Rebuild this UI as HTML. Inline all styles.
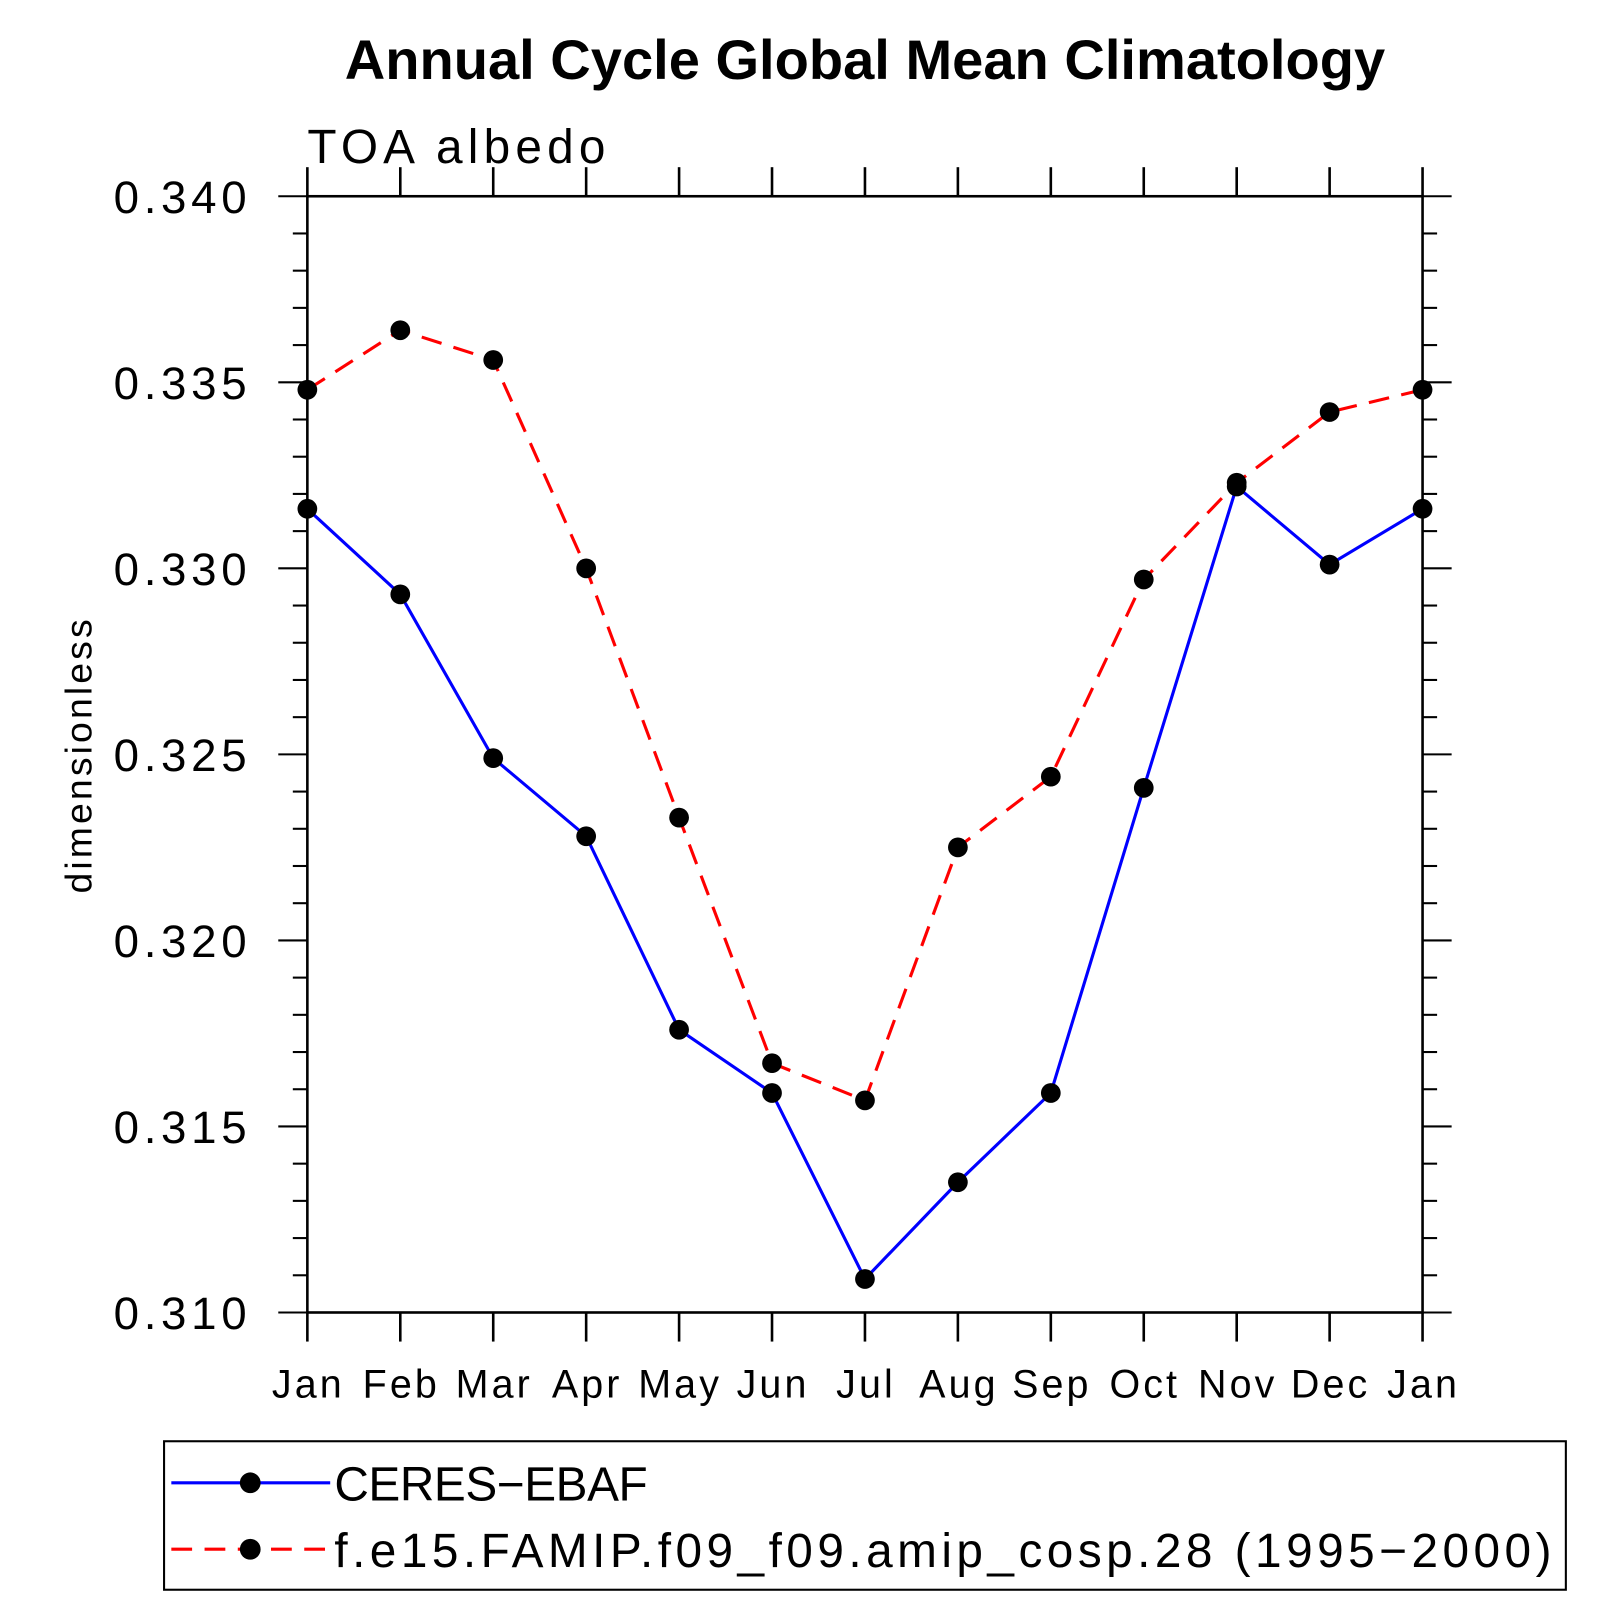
<!DOCTYPE html>
<html><head><meta charset="utf-8"><style>
html,body{margin:0;padding:0;background:#fff;}
svg{display:block;}
text{font-family:"Liberation Sans",sans-serif;fill:#000;}
</style></head><body>
<svg id="chart" width="1624" height="1624" viewBox="0 0 1564 1564" xmlns="http://www.w3.org/2000/svg">
<text x="833" y="76" text-anchor="middle" font-size="54" font-weight="bold">Annual Cycle Global Mean Climatology</text>
<text x="296" y="157" font-size="46" letter-spacing="5">TOA  albedo</text>
<text transform="translate(88,727) rotate(-90)" text-anchor="middle" font-size="36" letter-spacing="3">dimensionless</text>
<g id="axes"></g>
<g id="series"></g>
<g>
<rect x="158" y="1388" width="1350" height="143" fill="none" stroke="#000" stroke-width="2"/>
<line x1="165" y1="1428" x2="318" y2="1428" stroke="#0000ff" stroke-width="3"/>
<circle cx="241" cy="1428" r="10" fill="#000"/>
<text x="322" y="1445" font-size="46" letter-spacing="-0.4">CERES−EBAF</text>
<line x1="165" y1="1492" x2="318" y2="1492" stroke="#ff0000" stroke-width="3" stroke-dasharray="20,12"/>
<circle cx="241" cy="1492" r="10" fill="#000"/>
<text x="322" y="1509" font-size="46" letter-spacing="4.3">f.e15.FAMIP.f09_f09.amip_cosp.28 (1995−2000)</text>
</g>
</svg>
<script>
const months = ["Jan","Feb","Mar","Apr","May","Jun","Jul","Aug","Sep","Oct","Nov","Dec","Jan"];
const ceres = [0.3316,0.3293,0.3249,0.3228,0.3176,0.3159,0.3109,0.3135,0.3159,0.3241,0.3322,0.3301,0.3316];
const model = [0.3348,0.3364,0.3356,0.3300,0.3233,0.3167,0.3157,0.3225,0.3244,0.3297,0.3323,0.3342,0.3348];
const yTicks = [0.310,0.315,0.320,0.325,0.330,0.335,0.340];
const yTickLabels = ["0.310","0.315","0.320","0.325","0.330","0.335","0.340"];
const ns="http://www.w3.org/2000/svg";
const L=296,R=1370,T=189,B=1264,yMin=0.310,yMax=0.340;
function xs(i){return L+(R-L)*i/(months.length-1);}
function ys(v){return B-(v-yMin)/(yMax-yMin)*(B-T);}
function mk(tag,attrs,parent){const e=document.createElementNS(ns,tag);for(const k in attrs)e.setAttribute(k,attrs[k]);parent.appendChild(e);return e;}
const axes=document.getElementById('axes');
const frame=mk('rect',{x:L,y:T,width:R-L,height:B-T,fill:'none',stroke:'#000','stroke-width':2.5},axes);


months.forEach((m,i)=>{
  const x=xs(i);
  mk('line',{x1:x,y1:B,x2:x,y2:B+28,stroke:'#000','stroke-width':2.5},axes);
  mk('line',{x1:x,y1:T,x2:x,y2:T-28,stroke:'#000','stroke-width':2.5},axes);
  const t=mk('text',{x:x+1,y:1346,'text-anchor':'middle','font-size':38,'letter-spacing':3},axes);
  t.textContent=m;
  
  
});
for(let k=0;k<=30;k++){
  const v=yMin+k*0.001,y=ys(v),major=k%5===0,len=major?28:14;
  mk('line',{x1:L,y1:y,x2:L-len,y2:y,stroke:'#000','stroke-width':2},axes);
  mk('line',{x1:R,y1:y,x2:R+len,y2:y,stroke:'#000','stroke-width':2},axes);
}
yTicks.forEach((v,i)=>{
  const t=mk('text',{x:242,y:ys(v)+16,'text-anchor':'end','font-size':44,'letter-spacing':4.5},axes);
  t.textContent=yTickLabels[i];
  
  
});
const ser=document.getElementById('series');
function draw(vals,color,dash,name){
  const p=mk('polyline',{points:vals.map((v,i)=>xs(i)+','+ys(v)).join(' '),fill:'none',stroke:color,'stroke-width':3,'stroke-dasharray':dash},ser);
  
  
  vals.forEach((v,i)=>{
    const c=mk('circle',{cx:xs(i),cy:ys(v),r:9.5,fill:'#000'},ser);
    
    
  });
}
draw(ceres,'#0000ff','none','ceres');
draw(model,'#ff0000','20,12','model');
</script>
</body></html>
